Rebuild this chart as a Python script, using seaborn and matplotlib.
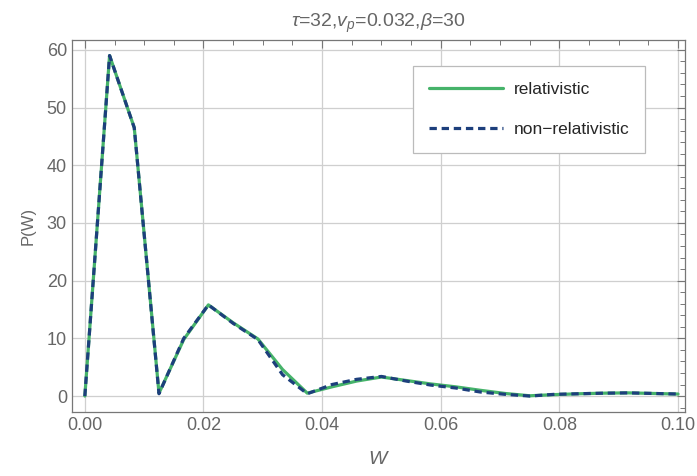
import numpy as np
import pandas as pd
import seaborn as sns
import matplotlib
matplotlib.use("Agg")
import matplotlib.pyplot as plt
from matplotlib.ticker import MultipleLocator

w = [0.0, 0.00417, 0.00833, 0.0125, 0.01667, 0.02083, 0.025, 0.02917, 0.03333,
     0.0375, 0.04167, 0.04583, 0.05, 0.05417, 0.05833, 0.0625, 0.06667,
     0.07083, 0.075, 0.07917, 0.08333, 0.0875, 0.09167, 0.09583, 0.1]
p_rel = [0.0, 59.0, 46.5, 0.5, 9.8, 15.8, 12.7, 9.9, 4.6, 0.5, 1.6, 2.6, 3.3,
         2.7, 2.1, 1.6, 1.0, 0.45, 0.05, 0.25, 0.4, 0.5, 0.55, 0.45, 0.35]
p_nonrel = [0.0, 59.0, 46.5, 0.4, 10.0, 15.8, 12.6, 9.8, 3.7, 0.4, 2.0, 2.9,
            3.4, 2.6, 1.9, 1.4, 0.7, 0.3, 0.0, 0.3, 0.4, 0.5, 0.55, 0.45, 0.35]
labels = ["relativistic", "non\u2212relativistic"]

sns.set_style("white")
plt.rcParams["font.family"] = ["Liberation Sans", "DejaVu Sans"]
plt.rcParams["mathtext.fontset"] = "custom"
plt.rcParams["mathtext.it"] = "Liberation Sans:italic"
plt.rcParams["mathtext.rm"] = "Liberation Sans"

gray = "#666666"
fig = plt.figure(figsize=(6.97, 4.76), dpi=100)
ax = fig.add_axes([0.103, 0.134, 0.880, 0.782])

sns.lineplot(x=w, y=p_rel, ax=ax, color="#46b36a", lw=2.3, label=labels[0])
sns.lineplot(x=w, y=p_nonrel, ax=ax, color="#1d3f7c", lw=2.3,
             dashes=False, label=labels[1])
ax.lines[1].set_dashes([2.3, 1.5])

ax.set_xlim(-0.0022, 0.1012)
ax.set_ylim(-2.8, 61.7)
ax.xaxis.set_major_locator(MultipleLocator(0.02))
ax.xaxis.set_minor_locator(MultipleLocator(0.005))
ax.yaxis.set_major_locator(MultipleLocator(10))
ax.yaxis.set_minor_locator(MultipleLocator(2))
ax.set_xticklabels([f"{t:.2f}" for t in ax.get_xticks()])

ax.grid(True, which="major", color="#cfcfcf", lw=0.9)
ax.tick_params(which="both", direction="in", top=True, right=True,
               colors="#777777", labelcolor=gray, labelsize=13)
ax.tick_params(which="major", length=6, width=0.8)
ax.tick_params(which="minor", length=3.5, width=0.7)
for s in ax.spines.values():
    s.set_color("#777777")
    s.set_linewidth(0.9)

ax.set_title(r"$\tau$=32,$v_p$=0.032,$\beta$=30", color=gray, fontsize=14, pad=9)
ax.set_xlabel(r"$W$", color=gray, fontsize=14, labelpad=12)
ax.set_ylabel("P(W)", color=gray, fontsize=12, labelpad=8)

leg = ax.legend(loc="upper right", bbox_to_anchor=(0.935, 0.93), fontsize=12.5,
                handlelength=4.3, handletextpad=0.6, borderpad=0.9,
                borderaxespad=0, labelspacing=1.45, fancybox=False,
                framealpha=1)
leg.get_frame().set_edgecolor("#bbbbbb")
leg.get_frame().set_linewidth(0.9)

fig.savefig("out.png", dpi=100)
